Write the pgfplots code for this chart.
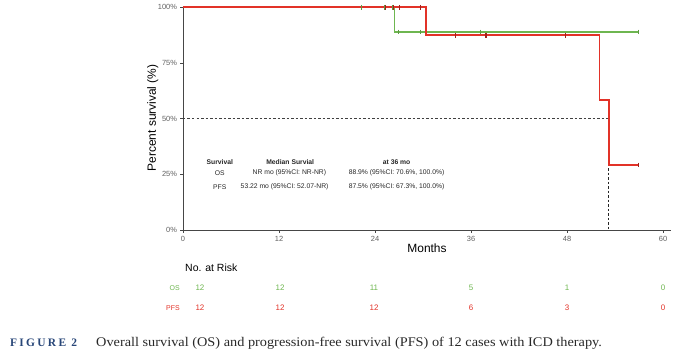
\documentclass[border=0pt]{standalone}
\usepackage{fontspec}
\setmainfont{Liberation Sans}
\newfontfamily\capfont[FakeStretch=1.08]{Liberation Serif}
\newfontfamily\capfontsp[LetterSpace=20]{Liberation Serif}
\usepackage{pgfplots}
\pgfplotsset{compat=1.18}
\definecolor{osgreen}{RGB}{110,182,80}
\definecolor{pfsred}{RGB}{226,50,40}
\definecolor{axgray}{RGB}{70,70,70}
\definecolor{tickgray}{RGB}{95,95,95}
\definecolor{capblue}{RGB}{40,70,120}
\definecolor{captext}{RGB}{40,40,40}
\begin{document}
\begin{tikzpicture}[x=1bp,y=1bp]
\useasboundingbox (-183,-128) rectangle (497,230);
\begin{axis}[
  scale only axis, width=488bp, height=222.7bp,
  xmin=0, xmax=61, ymin=0, ymax=100,
  axis lines=left, axis line style={axgray, line width=0.9bp, -},
  xtick={0,12,24,36,48,60}, ytick={0,25,50,75,100},
  yticklabels={0\%,25\%,50\%,75\%,100\%},
  tick style={axgray, line width=0.6bp},
  tick align=outside, major tick length=2.5bp,
  ticklabel style={font=\fontsize{7.5}{8}\selectfont, text=tickgray},
  /pgf/number format/assume math mode=true,
  xlabel={Months}, ylabel={Percent survival (\%)},
  label style={font=\fontsize{12}{14}\selectfont},
  xlabel style={at={(axis description cs:0.5,-0.081)}, anchor=center},
  ylabel style={at={(axis description cs:-0.062,0.503)}, anchor=center},
  clip=false,
]
% median reference lines
\addplot[black!75, line width=0.7bp, dash pattern=on 2.5bp off 2bp] coordinates {(0,50) (53.22,50)};
\addplot[black!85, line width=0.7bp, dash pattern=on 2.5bp off 2bp] coordinates {(53.22,50) (53.22,0)};
% OS
\addplot[osgreen, line width=1.4bp] coordinates {(0,100) (26.4,100) (26.4,88.9) (56.9,88.9)};
\addplot[osgreen!85!black, only marks, mark=|, mark size=2.4bp, mark options={line width=0.6bp}] coordinates {(22.3,100) (25.2,100) (26.2,100) (26.9,88.9) (29.7,88.9) (37.2,88.9) (56.9,88.9)};
% PFS
\addplot[pfsred, line width=1.6bp] coordinates {(0,100) (30.4,100) (30.4,87.5) (52.07,87.5) (52.07,58.3) (53.22,58.3) (53.22,29.2) (56.9,29.2)};
\addplot[pfsred!70!black, only marks, mark=|, mark size=2.4bp, mark options={line width=0.6bp}] coordinates {(25.3,100) (26.3,100) (27.0,100) (29.6,100) (34.0,87.5) (37.8,87.5) (37.9,87.5) (47.8,87.5) (56.9,29.2)};
% summary table
\begin{scope}[every node/.style={font=\fontsize{6.8}{8}\selectfont, text=black!85, inner sep=0pt}]
\node[font=\fontsize{6.8}{8}\selectfont\bfseries] at (axis cs:4.6,30.5) {Survival};
\node[font=\fontsize{6.8}{8}\selectfont\bfseries] at (axis cs:13.4,30.5) {Median Survial};
\node[font=\fontsize{6.8}{8}\selectfont\bfseries] at (axis cs:26.7,30.5) {at 36 mo};
\node at (axis cs:4.6,25.5) {OS};
\node at (axis cs:13.3,25.5) {NR mo (95\%CI: NR-NR)};
\node at (axis cs:26.7,25.5) {88.9\% (95\%CI: 70.6\%, 100.0\%)};
\node at (axis cs:4.6,19.4) {PFS};
\node at (axis cs:12.7,19.4) {53.22 mo (95\%CI: 52.07-NR)};
\node at (axis cs:26.7,19.4) {87.5\% (95\%CI: 67.3\%, 100.0\%)};
\end{scope}
\end{axis}
% risk table
\node[anchor=west, font=\fontsize{10.5}{12}\selectfont, inner sep=0pt] at (2,-38) {No. at Risk};
\node[anchor=east, font=\fontsize{7}{8}\selectfont, text=osgreen, inner sep=0pt] at (-3,-58) {OS};
\node[anchor=east, font=\fontsize{7}{8}\selectfont, text=pfsred, inner sep=0pt] at (-3,-78) {PFS};
\foreach \x/\a/\b in {17/12/12, 97/12/12, 191/11/12, 288/5/6, 384/1/3, 480/0/0}{
  \node[font=\fontsize{8}{9}\selectfont, text=osgreen, inner sep=0pt] at (\x,-58) {\a};
  \node[font=\fontsize{8}{9}\selectfont, text=pfsred, inner sep=0pt] at (\x,-78) {\b};
}
% caption
\node[anchor=base west, font=\capfontsp\bfseries\fontsize{11.5}{13}\selectfont, text=capblue, inner sep=0pt] at (-173,-116) {FIGURE 2};
\node[anchor=base west, font=\capfont\fontsize{13.3}{15}\selectfont, text=captext, inner sep=0pt] at (-87,-116) {Overall survival (OS) and progression-free survival (PFS) of 12 cases with ICD therapy.};
\end{tikzpicture}
\end{document}
